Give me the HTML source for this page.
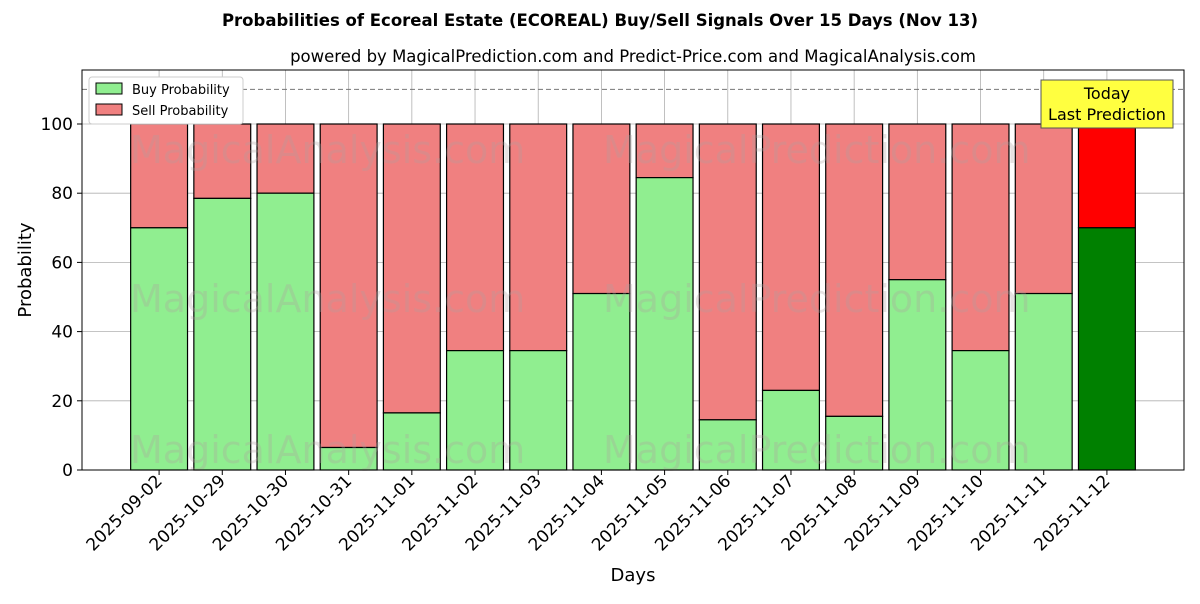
<!DOCTYPE html>
<html><head><meta charset="utf-8"><style>
body{margin:0;background:#fff;font-family:"DejaVu Sans","Liberation Sans",sans-serif;}
</style></head><body>
<svg id="chart" width="1200" height="600" xmlns="http://www.w3.org/2000/svg" font-family="DejaVu Sans, Liberation Sans, sans-serif">
<text x="600" y="26" text-anchor="middle" font-size="16.5" font-weight="bold">Probabilities of Ecoreal Estate (ECOREAL) Buy/Sell Signals Over 15 Days (Nov 13)</text>
<text x="633" y="62" text-anchor="middle" font-size="16.5">powered by MagicalPrediction.com and Predict-Price.com and MagicalAnalysis.com</text>
<g id="grid"></g>
<g id="bars"></g>
<g id="wm" font-size="38" fill="#b0a0a0" opacity="0.3">
<text x="130" y="163">MagicalAnalysis.com</text>
<text x="603" y="163">MagicalPrediction.com</text>
<text x="130" y="312">MagicalAnalysis.com</text>
<text x="603" y="312">MagicalPrediction.com</text>
<text x="130" y="463">MagicalAnalysis.com</text>
<text x="603" y="463">MagicalPrediction.com</text>
</g>
<g id="axes"></g>
<rect x="82" y="70" width="1102" height="400" fill="none" stroke="#000"/>
<g>
<rect x="89" y="77" width="154" height="47" fill="#fff" stroke="#ccc" rx="3"/>
<rect x="96" y="83" width="26" height="11" fill="#90ee90" stroke="#000"/>
<text x="132" y="94" font-size="13">Buy Probability</text>
<rect x="96" y="104" width="26" height="11" fill="#f08080" stroke="#000"/>
<text x="132" y="115" font-size="13">Sell Probability</text>
</g>
<g>
<rect x="1041" y="80" width="132" height="48" fill="#ffff40" stroke="#555"/>
<text x="1107" y="99" text-anchor="middle" font-size="16">Today</text>
<text x="1107" y="120" text-anchor="middle" font-size="16">Last Prediction</text>
</g>
<text x="633" y="581" text-anchor="middle" font-size="18">Days</text>
<text transform="translate(31,270) rotate(-90)" text-anchor="middle" font-size="18">Probability</text>
</svg>
<script>
const categories=["2025-09-02","2025-10-29","2025-10-30","2025-10-31","2025-11-01","2025-11-02","2025-11-03","2025-11-04","2025-11-05","2025-11-06","2025-11-07","2025-11-08","2025-11-09","2025-11-10","2025-11-11","2025-11-12"];
const buyValues=[70,78.5,80,6.5,16.5,34.5,34.5,51,84.5,14.5,23,15.5,55,34.5,51,70];
const yTicks=[0,20,40,60,80,100];
const NS="http://www.w3.org/2000/svg";
const L=82,R=1184,T=70,B=470;
const n=categories.length;
const pad=1.22;
const step=(R-L)/(n-1+2*pad);
function xs(i){return L+step*(i+pad);}
function ys(v){return B-v*3.46;}
function mk(t,a,p){const e=document.createElementNS(NS,t);for(const k in a)e.setAttribute(k,a[k]);p.appendChild(e);return e;}
const grid=document.getElementById('grid'),bars=document.getElementById('bars'),axes=document.getElementById('axes');
yTicks.forEach(v=>{
 const g=mk('line',{x1:L,x2:R,y1:ys(v),y2:ys(v),stroke:'#b0b0b0','stroke-width':0.8},grid);
 
 
 mk('line',{x1:L-5,x2:L,y1:ys(v),y2:ys(v),stroke:'#000'},axes);
 const t=mk('text',{x:L-9,y:ys(v)+6,'text-anchor':'end','font-size':17},axes);t.textContent=v;
 
 
});
categories.forEach((c,i)=>{
 const x=xs(i);
 const g=mk('line',{x1:x,x2:x,y1:T,y2:B,stroke:'#b0b0b0','stroke-width':0.8},grid);
 
 
 mk('line',{x1:x,x2:x,y1:B,y2:B+5,stroke:'#000'},axes);
 const t=mk('text',{transform:`translate(${x+4},${B+12}) rotate(-45)`,'text-anchor':'end','font-size':17},axes);t.textContent=c;
 
 
});
const dl=mk('line',{x1:L,x2:R,y1:ys(110),y2:ys(110),stroke:'#777','stroke-dasharray':'5,3'},grid);


const w=step*0.9;
categories.forEach((c,i)=>{
 const last=i===n-1;const b=buyValues[i];
 const s=mk('rect',{x:xs(i)-w/2,y:ys(100),width:w,height:ys(b)-ys(100),fill:last?'#ff0000':'#f08080',stroke:'#000','stroke-width':1.2},bars);
 
 
 const r=mk('rect',{x:xs(i)-w/2,y:ys(b),width:w,height:ys(0)-ys(b),fill:last?'#008000':'#90ee90',stroke:'#000','stroke-width':1.2},bars);
 
 
});
</script>
</body></html>
